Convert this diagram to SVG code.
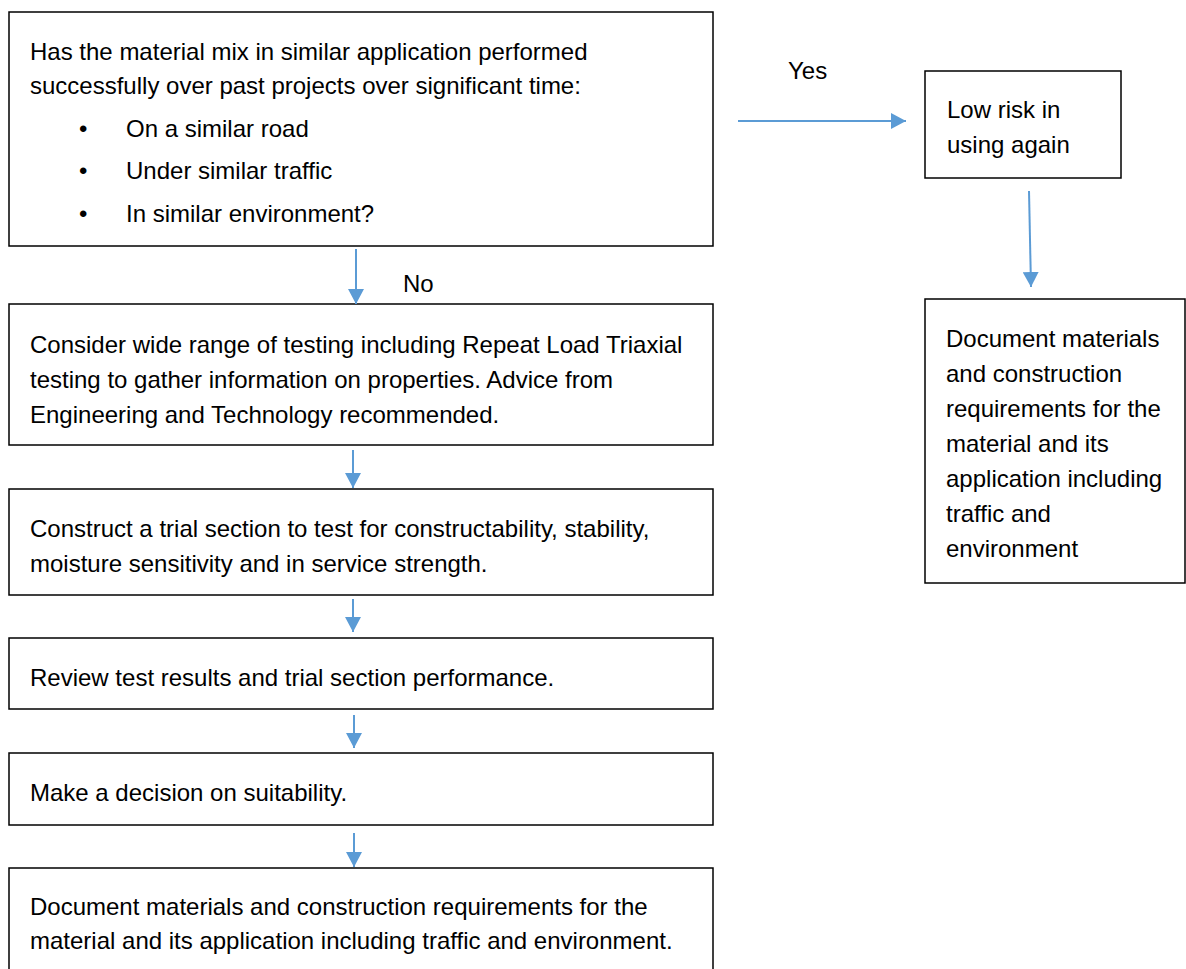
<svg xmlns="http://www.w3.org/2000/svg" width="1186" height="969" viewBox="0 0 1186 969">
<style>
.box{fill:#fff;stroke:#000;stroke-width:1.5}
.t{font-family:"Liberation Sans",Arial,sans-serif;font-size:24px;fill:#000}
.c{stroke:#5B9BD5;stroke-width:2;fill:none;marker-end:url(#ah)}
</style>
<defs>
<marker id="ah" markerUnits="userSpaceOnUse" markerWidth="15" markerHeight="16" refX="15" refY="8" orient="auto">
<path d="M0,0 L15,8 L0,16 z" fill="#5B9BD5"/>
</marker>
</defs>
<rect width="1186" height="969" fill="#fff"/>
<g id="n1">
<rect class="box" x="9" y="12" width="704" height="234"/>
<text class="t" x="30" y="60">Has the material mix in similar application performed</text>
<text class="t" x="30" y="94">successfully over past projects over significant time:</text>
<text class="t" x="79" y="137">•</text><text class="t" x="126" y="137">On a similar road</text>
<text class="t" x="79" y="179">•</text><text class="t" x="126" y="179">Under similar traffic</text>
<text class="t" x="79" y="222">•</text><text class="t" x="126" y="222">In similar environment?</text>
</g>
<g id="n2">
<rect class="box" x="9" y="304" width="704" height="141"/>
<text class="t" x="30" y="353">Consider wide range of testing including Repeat Load Triaxial</text>
<text class="t" x="30" y="388">testing to gather information on properties. Advice from</text>
<text class="t" x="30" y="423">Engineering and Technology recommended.</text>
</g>
<g id="n3">
<rect class="box" x="9" y="489" width="704" height="106"/>
<text class="t" x="30" y="537">Construct a trial section to test for constructability, stability,</text>
<text class="t" x="30" y="572">moisture sensitivity and in service strength.</text>
</g>
<g id="n4">
<rect class="box" x="9" y="638" width="704" height="71"/>
<text class="t" x="30" y="686">Review test results and trial section performance.</text>
</g>
<g id="n5">
<rect class="box" x="9" y="753" width="704" height="72"/>
<text class="t" x="30" y="801">Make a decision on suitability.</text>
</g>
<g id="n6">
<rect class="box" x="9" y="868" width="704" height="120"/>
<text class="t" x="30" y="915">Document materials and construction requirements for the</text>
<text class="t" x="30" y="949">material and its application including traffic and environment.</text>
</g>
<g id="n7">
<rect class="box" x="925" y="71" width="196" height="107"/>
<text class="t" x="947" y="118">Low risk in</text>
<text class="t" x="947" y="153">using again</text>
</g>
<g id="n8">
<rect class="box" x="925" y="299" width="260" height="284"/>
<text class="t" x="946" y="347">Document materials</text>
<text class="t" x="946" y="382">and construction</text>
<text class="t" x="946" y="417">requirements for the</text>
<text class="t" x="946" y="452">material and its</text>
<text class="t" x="946" y="487">application including</text>
<text class="t" x="946" y="522">traffic and</text>
<text class="t" x="946" y="557">environment</text>
</g>
<g id="connectors">
<line class="c" x1="356" y1="249" x2="356" y2="304"/>
<line class="c" x1="353" y1="450" x2="353" y2="488"/>
<line class="c" x1="353" y1="599" x2="353" y2="632"/>
<line class="c" x1="354" y1="715" x2="354" y2="748"/>
<line class="c" x1="354" y1="833" x2="354" y2="867"/>
<line class="c" x1="738" y1="121" x2="906" y2="121"/>
<line class="c" x1="1029" y1="191" x2="1031" y2="287"/>
<text class="t" x="403" y="292">No</text>
<text class="t" x="788" y="79">Yes</text>
</g>
</svg>
